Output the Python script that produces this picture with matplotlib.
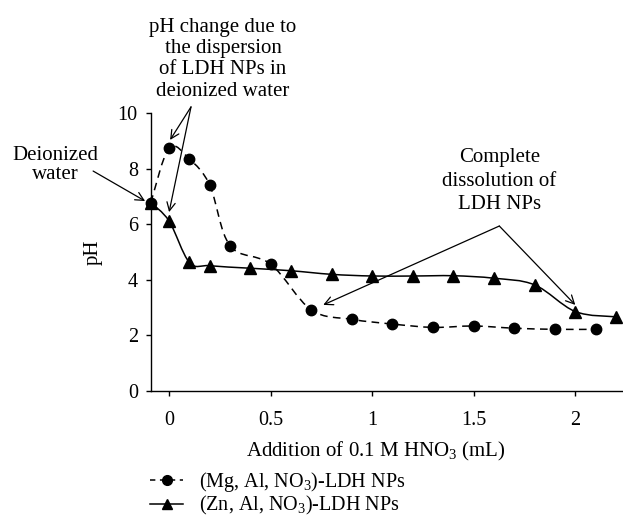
import numpy as np
import matplotlib
matplotlib.use("Agg")
import matplotlib.pyplot as plt
from matplotlib.path import Path
from matplotlib.patches import PathPatch
from matplotlib.lines import Line2D

plt.rcParams['font.family'] = ['Liberation Serif', 'DejaVu Serif']
plt.rcParams['mathtext.fontset'] = 'custom'
plt.rcParams['mathtext.rm'] = 'Liberation Serif'

# Data
mg_x = [-0.09, 0.0, 0.1, 0.2, 0.3, 0.5, 0.7, 0.9, 1.1, 1.3, 1.5, 1.7, 1.9, 2.1]
mg_ph = [6.77, 8.74, 8.34, 7.41, 5.22, 4.56, 2.91, 2.57, 2.40, 2.28, 2.33, 2.25, 2.21, 2.21]
zn_x = [-0.09, 0.0, 0.1, 0.2, 0.4, 0.6, 0.8, 1.0, 1.2, 1.4, 1.6, 1.8, 2.0, 2.2]
zn_ph = [6.77, 6.11, 4.62, 4.50, 4.41, 4.32, 4.19, 4.13, 4.13, 4.14, 4.05, 3.81, 2.85, 2.66]

xticks = [0, 0.5, 1, 1.5, 2]
xticklabels = ['0', '0.5', '1', '1.5', '2']
yticks = [0, 2, 4, 6, 8, 10]

FS = 15
TFS = 14.5

fig = plt.figure(figsize=(6.23, 5.17), dpi=100)
ax = fig.add_axes([151/623, (517-390.7)/517, 471/623, (390.7-113)/517])
ax.set_xlim(-0.089, 2.23)
ax.set_ylim(0, 10)

def smooth_path(xs, ys, sx=203.0, sy=27.77):
    # Excel-style smoothed line drawn as cubic Bezier segments through data
    px = np.asarray(xs) * sx
    py = np.asarray(ys) * sy
    n = len(px)
    verts = [(px[0], py[0])]
    codes = [Path.MOVETO]
    for i in range(n - 1):
        p0 = np.array([px[max(i-1, 0)], py[max(i-1, 0)]])
        p1 = np.array([px[i], py[i]])
        p2 = np.array([px[i+1], py[i+1]])
        p3 = np.array([px[min(i+2, n-1)], py[min(i+2, n-1)]])
        c1 = p1 + (p2 - p0) / 6.0
        c2 = p2 - (p3 - p1) / 6.0
        verts += [tuple(c1), tuple(c2), tuple(p2)]
        codes += [Path.CURVE4] * 3
    verts = [(vx / sx, vy / sy) for vx, vy in verts]
    return Path(verts, codes)

ax.add_patch(PathPatch(smooth_path(zn_x, zn_ph), fill=False, edgecolor='black',
                       linewidth=1.1, zorder=2, clip_on=False))
ax.add_patch(PathPatch(smooth_path(mg_x, mg_ph), fill=False, edgecolor='black',
                       linewidth=1.1, linestyle=(0, (5, 3.5)), zorder=3, clip_on=False))
ax.plot(zn_x, zn_ph, linestyle='none', marker='^', markersize=8, color='black',
        zorder=4, clip_on=False)
ax.plot(mg_x, mg_ph, linestyle='none', marker='o', markersize=7.5, color='black',
        zorder=5, clip_on=False)

for s in ['top', 'right']:
    ax.spines[s].set_visible(False)
for s in ['left', 'bottom']:
    ax.spines[s].set_linewidth(1.0)

ax.set_xticks(xticks)
ax.set_xticklabels(xticklabels)
ax.set_yticks(yticks)
ax.tick_params(axis='both', direction='out', length=3.5, width=1.0, labelsize=TFS)
ax.tick_params(axis='x', pad=11)
ax.tick_params(axis='y', pad=6)

ax.set_xlabel('Addition of 0.1 M HNO$_3$ (mL)', fontsize=FS)
ax.xaxis.label.set_va('center')
ax.xaxis.set_label_coords(0.478, -0.22)
ax.set_ylabel('pH', fontsize=FS)
ax.yaxis.label.set_va('center')
ax.yaxis.set_label_coords(-0.122, 0.5)

ap = dict(arrowstyle='->', color='black', lw=0.9, shrinkA=0, shrinkB=0,
          mutation_scale=15)

# Deionized water
ax.text(-0.562, 8.13, 'Deionized\nwater', ha='center', va='center', fontsize=FS,
        linespacing=1.03)
ax.annotate('', xy=(-0.118, 6.83), xytext=(-0.374, 7.91), arrowprops=ap,
            annotation_clip=False)

# pH change due to dispersion
ax.text(0.266, 11.94, 'pH change due to\nthe dispersion\nof LDH NPs in\ndeionized water',
        ha='center', va='center', fontsize=FS, linespacing=1.17)
ax.annotate('', xy=(0.005, 9.03), xytext=(0.108, 10.22), arrowprops=ap,
            annotation_clip=False)
ax.annotate('', xy=(0.0, 6.43), xytext=(0.108, 10.22), arrowprops=ap,
            annotation_clip=False)

# Complete dissolution
ax.text(1.626, 7.55, 'Complete\ndissolution of\nLDH NPs', ha='center', va='center',
        fontsize=FS, linespacing=1.29)
ax.annotate('', xy=(0.759, 3.09), xytext=(1.626, 5.93), arrowprops=ap,
            annotation_clip=False)
ax.annotate('', xy=(2.0, 3.09), xytext=(1.626, 5.93), arrowprops=ap,
            annotation_clip=False)

handles = [
    Line2D([], [], color='black', linestyle=(0, (3.5, 3)), linewidth=1.1, marker='o',
           markersize=7),
    Line2D([], [], color='black', linestyle='-', linewidth=1.1, marker='^',
           markersize=7.5),
]
labels = ['(Mg, Al, NO$_3$)-LDH NPs', '(Zn, Al, NO$_3$)-LDH NPs']
ax.legend(handles, labels, loc='center left', bbox_to_anchor=(-0.002, -0.37),
          bbox_transform=ax.transAxes, frameon=False, fontsize=14.5,
          handlelength=1.65, handletextpad=0.8, labelspacing=0.02,
          borderpad=0, borderaxespad=0)

fig.savefig('out.png', dpi=100)
